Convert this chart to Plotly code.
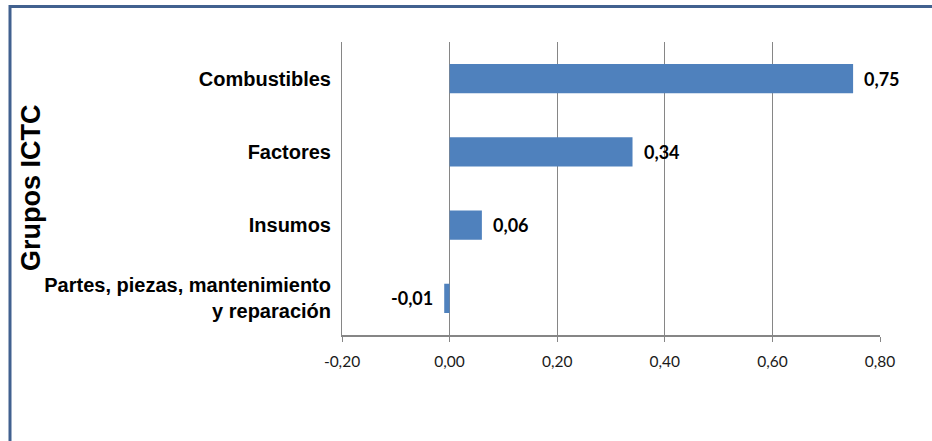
import plotly.graph_objects as go

# ---- data ----
categories = ["Combustibles", "Factores", "Insumos",
              "Partes, piezas, mantenimiento<br>y reparación"]
values = [0.75, 0.34, 0.06, -0.01]
tick_vals = [-0.2, 0.0, 0.2, 0.4, 0.6, 0.8]
tick_text = ["-0,20", "0,00", "0,20", "0,40", "0,60", "0,80"]
axis_title = "Grupos ICTC"

# ---- layout geometry (pixels) ----
W, H = 932, 441
L, R, T, B = 342, 52, 42, 106
pw = W - L - R
ph = H - T - B


def px_x(p):
    return (p - L) / pw


def px_y(p):
    return (H - B - p) / ph


BAR_COLOR = "#4F81BD"
GRID = "#868686"

fig = go.Figure(
    go.Bar(
        y=categories,
        x=values,
        orientation="h",
        width=0.4,
        marker=dict(color=BAR_COLOR, line=dict(width=0)),
        hoverinfo="skip",
    )
)

annotations = []
for c, v in zip(categories, values):
    annotations.append(dict(
        x=v, y=c, xref="x", yref="y",
        text=f"{v:.2f}".replace(".", ","),
        showarrow=False,
        xanchor="left" if v >= 0 else "right",
        xshift=9 if v >= 0 else -9,
        yanchor="middle",
        font=dict(family="Lato", size=18, color="black", weight="bold"),
    ))

annotations.append(dict(
    x=px_x(31), y=px_y(188), xref="paper", yref="paper",
    text=axis_title, showarrow=False, textangle=-90,
    xanchor="center", yanchor="middle",
    font=dict(family="Liberation Sans", size=27, color="black", weight="bold"),
))

xl, yt = px_x(10), px_y(6.5)
xr, yb = px_x(W + 10), px_y(H + 10)
shapes = [dict(
    type="path", xref="paper", yref="paper",
    path=f"M {xr} {yt} L {xl} {yt} L {xl} {yb}",
    line=dict(color="#41618F", width=3),
)]

fig.update_layout(
    width=W, height=H,
    margin=dict(l=L, r=R, t=T, b=B, pad=0),
    paper_bgcolor="white",
    plot_bgcolor="white",
    showlegend=False,
    separators=",.",
    annotations=annotations,
    shapes=shapes,
    xaxis=dict(
        range=[-0.2, 0.8],
        tickvals=tick_vals,
        ticktext=tick_text,
        showgrid=True, gridcolor=GRID, gridwidth=1,
        showline=True, linecolor=GRID, linewidth=1.5,
        ticks="outside", ticklen=5, tickcolor=GRID, tickwidth=1,
        zeroline=False,
        tickfont=dict(family="Lato", size=15.5, color="#1a1a1a"),
        ticklabelstandoff=7,
    ),
    yaxis=dict(
        type="category",
        autorange="reversed",
        showgrid=False,
        showline=True, linecolor=GRID, linewidth=1,
        ticks="",
        ticklabelstandoff=6,
        tickfont=dict(family="Liberation Sans", size=20, color="black", weight="bold"),
    ),
)

fig.write_html(
    "out.html",
    config={"displayModeBar": False, "staticPlot": True},
    post_script="document.body.style.margin='0';document.body.style.overflow='hidden';",
)
